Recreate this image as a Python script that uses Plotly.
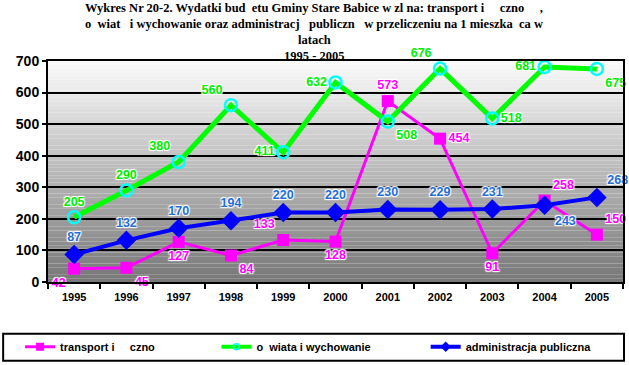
import plotly.graph_objects as go

years = ["1995", "1996", "1997", "1998", "1999", "2000", "2001", "2002", "2003", "2004", "2005"]
transport = [42, 45, 127, 84, 133, 128, 573, 454, 91, 258, 150]
oswiata = [205, 290, 380, 560, 411, 632, 508, 676, 518, 681, 675]
administracja = [87, 132, 170, 194, 220, 220, 230, 229, 231, 243, 268]

NB = "\u00a0"
name_t = "transport i" + NB * 5 + "czno"
name_o = "o" + NB * 2 + "wiata i wychowanie"
name_a = "administracja publiczna"

pos_t = ["bottom left", "bottom right", "bottom center", "bottom right", "top left", "bottom center",
         "top center", "middle right", "bottom center", "top right", "top right"]
pos_o = ["top center", "top center", "top left", "top left", "middle left", "middle left",
         "bottom right", "top left", "middle right", "middle left", "bottom right"]
pos_a = ["top center"] * 9 + ["bottom right", "top right"]

halo = "1px 1px 1px white, -1px -1px 1px white, 1px -1px 1px white, -1px 1px 1px white"

fig = go.Figure()
fig.add_trace(go.Scatter(
    x=years, y=transport, name=name_t, mode="lines+markers+text", showlegend=False,
    line=dict(color="#ff00ff", width=3),
    marker=dict(symbol="square", size=12, color="#ff00ff"),
    text=[str(v) for v in transport], textposition=pos_t, cliponaxis=False,
    textfont=dict(family="Arial", size=12.5, color="#ff00ff", weight="bold", shadow=halo),
))
fig.add_trace(go.Scatter(
    x=years, y=oswiata, name=name_o, mode="lines+markers+text", showlegend=False,
    line=dict(color="#00ff00", width=5),
    marker=dict(symbol="circle-open", size=12, color="#00ffff", line=dict(width=2.5, color="#00ffff")),
    text=[str(v) for v in oswiata], textposition=pos_o, cliponaxis=False,
    textfont=dict(family="Arial", size=12.5, color="#00ee00", weight="bold", shadow=halo),
))
fig.add_trace(go.Scatter(
    x=years, y=administracja, name=name_a, mode="lines+markers+text", showlegend=False,
    line=dict(color="#0000ff", width=4),
    marker=dict(symbol="diamond", size=15, color="#0000ff"),
    text=[str(v) for v in administracja], textposition=pos_a, cliponaxis=False,
    textfont=dict(family="Arial", size=12.5, color="#1f6fd6", weight="bold", shadow=halo),
))

# legend entries (small symbols, as in the original legend)
fig.add_trace(go.Scatter(x=[None], y=[None], name=name_t, mode="lines+markers", legend="legend",
                         line=dict(color="#ff00ff", width=3),
                         marker=dict(symbol="square", size=8, color="#ff00ff")))
fig.add_trace(go.Scatter(x=[None], y=[None], name=name_o, mode="lines+markers", legend="legend2",
                         line=dict(color="#00ff00", width=4),
                         marker=dict(symbol="circle-open", size=6, color="#00ffff", line=dict(width=1.5, color="#00ffff"))))
fig.add_trace(go.Scatter(x=[None], y=[None], name=name_a, mode="lines+markers", legend="legend3",
                         line=dict(color="#0000ff", width=4),
                         marker=dict(symbol="diamond", size=8, color="#0000ff")))

# gradient background of plot area (paper-referenced, drawn beneath gridlines)
shapes = []
n = 60
top = (250, 250, 250)
bot = (120, 120, 120)
for i in range(n):
    f = i / (n - 1)
    c = tuple(int(round(top[k] + (bot[k] - top[k]) * f)) for k in range(3))
    shapes.append(dict(type="rect", xref="paper", yref="paper", layer="below",
                       x0=0, x1=1, y0=1 - (i + 1) / n, y1=1 - i / n,
                       fillcolor="rgb(%d,%d,%d)" % c, line=dict(width=0)))
# legend box
L, T, B, W = 48, 61, 82, 577
H = 365 - T - B
def px(x):
    return (x - L) / W
def py(y):
    return (T + H - y) / H
shapes.append(dict(type="rect", xref="paper", yref="paper", x0=px(3), x1=px(626), y0=py(362), y1=py(335),
                   line=dict(color="black", width=2), fillcolor="white", layer="below"))

title_lines = [
    ("Wykres Nr 20-2. Wydatki bud" + NB * 2 + "etu Gminy Stare Babice w zl na: transport i" + NB * 5 + "czno" + NB * 5 + ",", 8),
    ("o" + NB * 2 + "wiat" + NB * 3 + "i wychowanie oraz administracj" + NB * 3 + "publiczn" + NB * 3 + "w przeliczeniu na 1 mieszka" + NB * 2 + "ca w", 24),
    ("latach", 40),
    ("1995 - 2005", 56),
]
annotations = []
for txt, y in title_lines:
    annotations.append(dict(text=txt, xref="paper", yref="paper", x=px(315), y=py(y), xanchor="center",
                            yanchor="middle", showarrow=False,
                            font=dict(family="Liberation Serif", size=12.5, color="black", weight="bold")))

leg_common = dict(orientation="h", yanchor="middle", xanchor="left", bgcolor="rgba(0,0,0,0)",
                  font=dict(family="Arial", size=11, color="black", weight="bold"),
                  itemwidth=30, borderwidth=0)

fig.update_layout(
    width=629, height=365,
    margin=dict(l=L, r=629 - L - W, t=T, b=B),
    paper_bgcolor="white", plot_bgcolor="rgba(0,0,0,0)",
    shapes=shapes, annotations=annotations,
    showlegend=True,
    legend=dict(x=px(20), y=py(348), **leg_common),
    legend2=dict(x=px(217), y=py(348), **leg_common),
    legend3=dict(x=px(427), y=py(348), **leg_common),
    xaxis=dict(type="category", range=[-0.5, 10.5], showline=True, linecolor="black", linewidth=2,
               mirror=True, ticks="outside", tickson="boundaries", ticklen=5, tickcolor="black",
               tickwidth=2, showgrid=False, ticklabelstandoff=4,
               tickfont=dict(family="Arial", size=11, color="black", weight="bold")),
    yaxis=dict(range=[0, 700], dtick=100, showline=True, linecolor="black", linewidth=2, mirror=True,
               ticks="outside", ticklen=4, tickcolor="black", tickwidth=2,
               showgrid=True, gridcolor="black", gridwidth=2, zeroline=False,
               tickfont=dict(family="Arial", size=14, color="black", weight="bold")),
)

fig.write_html("out.html", config={"displayModeBar": False},
               post_script="document.body.style.margin='0';document.body.style.overflow='hidden';")
